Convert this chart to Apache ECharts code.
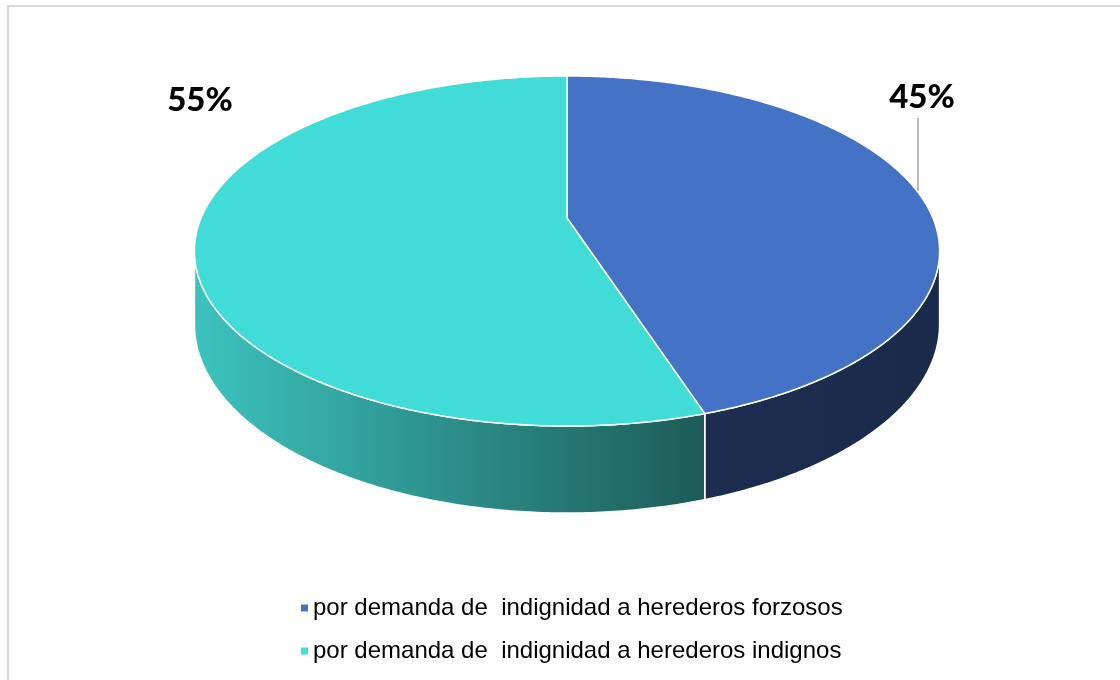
<!DOCTYPE html>
<html>
<head>
<meta charset="utf-8">
<script src="https://cdn.jsdelivr.net/npm/echarts@6/dist/echarts.min.js"></script>
<style>html,body{margin:0;padding:0;background:#fff}#c{width:1120px;height:680px}</style>
</head>
<body>
<div id="c"></div>
<script>
// ---- data ----
const categories = [
  'por demanda de  indignidad a herederos forzosos',
  'por demanda de  indignidad a herederos indignos'
];
const values = [45, 55];
const labelTexts = ['45%', '55%'];

// ---- styles ----
const topColors = ['#4472C4', '#41DBD8'];
const sideColors = [
  ['#1C2D50', '#1A2A4A'],
  ['#3CC3BF', '#1D5B57']
];
const labelPos = [[922, 97], [200, 100]];

// pseudo-perspective geometry
const G = { cx: 567, cy: 218, A: 365.9, B: 168.8, p: 0.1886, H: 70.6 };
function proj(t, down) {
  const s = Math.sin(t), c = -Math.cos(t);
  const k = 1 / (1 - G.p * c);
  return [G.cx + G.A * s * k, G.cy + G.B * c * k + (down ? G.H * k : 0)];
}
const total = values.reduce((a, b) => a + b, 0);
function sliceAngles(i) {
  let acc = 0;
  for (let j = 0; j < i; j++) acc += values[j];
  return [acc / total * 2 * Math.PI, (acc + values[i]) / total * 2 * Math.PI];
}
function arc(a0, a1, down) {
  const pts = [];
  const n = Math.max(8, Math.ceil((a1 - a0) / 0.01));
  for (let k = 0; k <= n; k++) pts.push(proj(a0 + (a1 - a0) * k / n, down));
  return pts;
}
const vis0 = Math.PI / 2 + Math.asin(G.p), vis1 = 3 * Math.PI / 2 - Math.asin(G.p);

function renderSide(params, api) {
  const i = params.dataIndex;
  const [a0, a1] = sliceAngles(i);
  const b0 = Math.max(a0, vis0), b1 = Math.min(a1, vis1);
  if (b1 <= b0) return null;
  const top = arc(b0, b1, false), bot = arc(b0, b1, true).reverse();
  return {
    type: 'polygon',
    shape: { points: top.concat(bot) },
    style: {
      fill: new echarts.graphic.LinearGradient(0, 0, 1, 0, [
        { offset: 0, color: sideColors[i][0] },
        { offset: 1, color: sideColors[i][1] }
      ]),
      stroke: '#ffffff', lineWidth: 1.5
    }
  };
}

function makeTop(i) {
  return function (params, api) {
    const [a0, a1] = sliceAngles(i);
    const pts = [[G.cx, G.cy]].concat(arc(a0, a1, false));
    const children = [{
      type: 'polygon',
      shape: { points: pts },
      style: { fill: topColors[i], stroke: '#ffffff', lineWidth: 1.5 }
    }, {
      type: 'text',
      style: {
        text: labelTexts[i], x: labelPos[i][0], y: labelPos[i][1],
        align: 'center', verticalAlign: 'middle',
        font: '900 33px Lato, "Open Sans", sans-serif', fill: '#000'
      }
    }];
    if (i === 0) {
      children.push({
        type: 'line',
        shape: { x1: 918, y1: 118, x2: 918, y2: 191 },
        style: { stroke: '#A6A6A6', lineWidth: 1.5 }
      });
    }
    return { type: 'group', children };
  };
}

const series = [{
  type: 'custom', name: '_side', coordinateSystem: 'none', z: 1, silent: true,
  data: values.map((v, i) => [i, v]), renderItem: renderSide
}];
categories.forEach((name, i) => {
  series.push({
    type: 'custom', name, coordinateSystem: 'none', z: 2, silent: true,
    itemStyle: { color: topColors[i] },
    data: [[i, values[i]]], renderItem: makeTop(i)
  });
});

const chart = echarts.init(document.getElementById('c'), null, { renderer: 'canvas' });
chart.setOption({
  animation: false,
  backgroundColor: '#fff',
  graphic: [{
    type: 'rect', shape: { x: 8, y: 6, width: 1200, height: 800 },
    style: { fill: 'none', stroke: '#D9D9D9', lineWidth: 2 }, z: 0, silent: true
  }],
  legend: {
    data: categories, orient: 'vertical', left: 296, top: 590,
    icon: 'rect', itemWidth: 7, itemHeight: 7, itemGap: 17,
    selectedMode: false,
    textStyle: { fontFamily: '"Liberation Sans", Arial, sans-serif', fontSize: 24, color: '#000', lineHeight: 26, padding: [0, 0, 0, 0] }
  },
  series
});
</script>
</body>
</html>
